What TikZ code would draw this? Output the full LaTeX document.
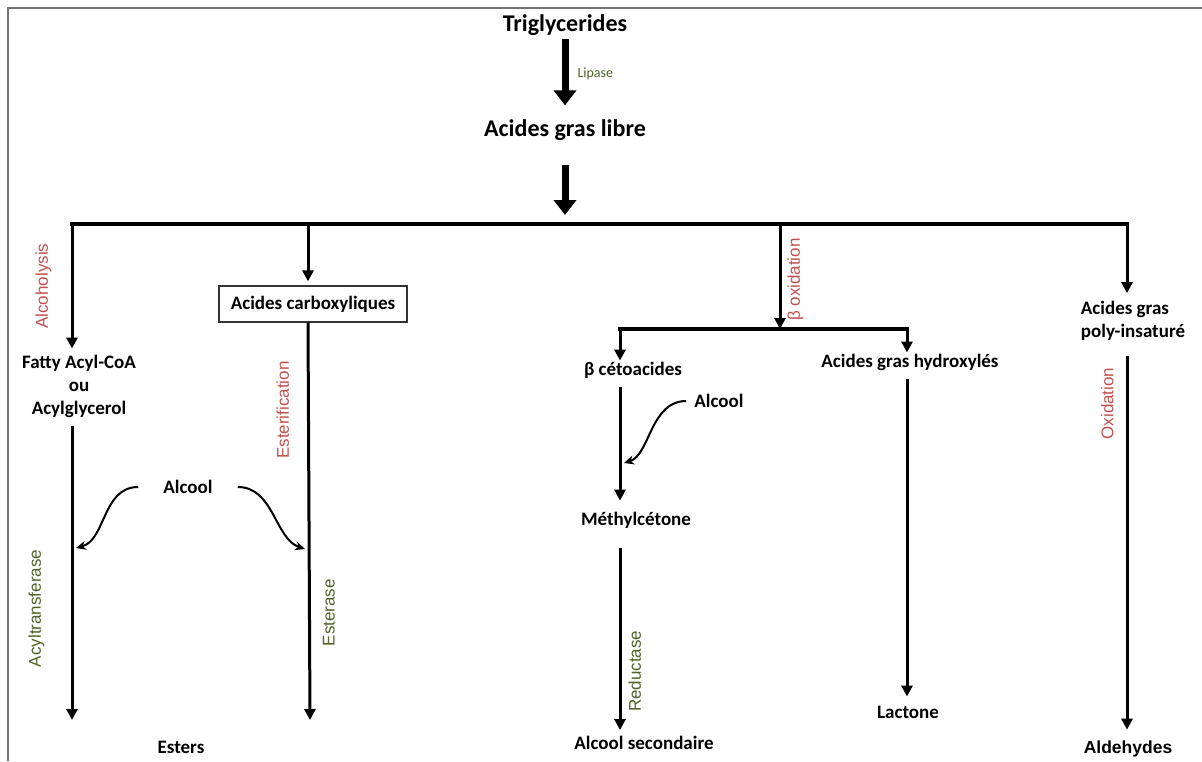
\documentclass[tikz,border=0pt]{standalone}
\usepackage{fontspec}
\setmainfont{Carlito}
\newfontfamily\arialfont{Liberation Sans}
\usetikzlibrary{arrows.meta}
\definecolor{enzred}{HTML}{C0504D}
\definecolor{enzgreen}{HTML}{4F6228}

\begin{document}
\begin{tikzpicture}[x=1pt, y=-1pt,
  txt/.style={font=\fontsize{19}{23}\selectfont\bfseries, inner sep=1pt, align=center},
  head/.style={font=\fontsize{24}{28}\selectfont\bfseries, inner sep=1pt},
  box/.style={txt, draw=black!80, line width=1.3pt, minimum width=188pt, minimum height=36pt},
  alc/.style={txt, inner xsep=#1},
  arr/.style={-{Triangle[length=11pt,width=11pt]}, line width=3pt},
  bigarr/.style={-{Triangle[length=15pt,width=22pt]}, line width=7pt},
  curv/.style={-{Stealth[length=10pt,width=9pt]}, line width=2pt},
  bar/.style={line width=3.2pt, line cap=rect},
  lbl/.style={font=\arialfont\fontsize{17}{20}\selectfont, text=#1, rotate=90},
  onleft/.style={anchor=south, inner sep=#1},
  onright/.style={anchor=north, inner sep=#1}]
\useasboundingbox (0,0) rectangle (1202,761);
\draw[black!55, line width=1.8pt] (1202,8) -- (8,8) -- (8,761);

% top of the pathway
\node[head] (trig) at (565,25) {Triglycerides};
\node[head] (libre) at (565,130) {Acides gras libre};
\draw[bigarr, shorten <=2pt, shorten >=13pt] (trig) -- node[pos=.45, anchor=west, inner sep=9pt,
  font=\fontsize{14}{16}\selectfont, text=enzgreen] {Lipase} (libre);

% the four branches
\coordinate (b1) at (72,224);
\coordinate (b2) at (308,224);
\coordinate (b3) at (780,224);
\coordinate (b4) at (1127,224);
\draw[bigarr, shorten <=23pt, shorten >=9pt] (libre) -- (libre |- b1);
\draw[bar] (b1) -- (b4);

\node[txt] (fatty) at (79,386) {Fatty Acyl-CoA\\ou\\Acylglycerol};
\node[box] (carb) at (313,304) {Acides carboxyliques};
\node[txt, align=left] (poly) at (1133,321) {Acides gras\\poly-insaturé};

\draw[arr, shorten >=5pt] (b1) -- node[pos=.48, lbl=enzred, onleft=19pt] {Alcoholysis} (b1 |- fatty.north);
\draw[arr, shorten >=4pt] (b2) -- (b2 |- carb.north);
\draw[arr, shorten >=7pt] (b4) -- (b4 |- poly.north);

% beta oxidation
\coordinate (s1) at (620,329);
\coordinate (s2) at (907,329);
\draw[arr] (b3) -- node[pos=.53, lbl=enzred, onright=6pt] {β oxidation} (b3 |- s1);
\draw[bar] (s1) -- (s2);
\node[txt] (ceto) at (633,370) {β cétoacides};
\node[txt] (hydro) at (910,362) {Acides gras hydroxylés};
\draw[arr] (s1) -- (s1 |- ceto.north);
\draw[arr] (s2) -- (s2 |- hydro.north);

% esters
\coordinate (e1) at (72,720);
\coordinate (e2) at (310,720);
\node[txt] (esters) at (181,747) {Esters};
\node[alc=25pt] (alc1) at (188,487) {Alcool};
\draw[arr, shorten <=8pt] (fatty.south -| e1) -- node[pos=.63, lbl=enzgreen, onleft=26pt] {Acyltransferase} (e1);
\draw[arr] (carb.south -| b2) -- node[pos=.22, lbl=enzred, onleft=18pt] {Esterification}
  node[pos=.73, lbl=enzgreen, onright=12pt] {Esterase} (e2);
\coordinate (t1) at (76,548);
\coordinate (t2) at (305,549);
\draw[curv] (alc1.west) .. controls +(-36,0) and +(30,-8) .. (t1);
\draw[curv] (alc1.east) .. controls +(36,0) and +(-30,-10) .. (t2);

% methylcetone route
\node[txt] (methyl) at (636,520) {Méthylcétone};
\node[txt] (alcsec) at (644,743) {Alcool secondaire};
\node[alc=8pt] (alc2) at (719,401) {Alcool};
\coordinate (t3) at (624,463);
\draw[arr, shorten <=8pt, shorten >=10pt] (ceto.south -| s1) -- (methyl.north -| s1);
\draw[curv] (alc2.west) .. controls +(-36,0) and +(26,-8) .. (t3);
\draw[arr, shorten <=19pt, shorten >=5pt] (methyl.south -| s1) -- node[pos=.69, lbl=enzgreen, onright=7pt] {Reductase} (alcsec.north -| s1);

% lactone and aldehydes
\node[txt] (lact) at (908,712) {Lactone};
\draw[arr, shorten <=8pt, shorten >=8pt] (hydro.south -| s2) -- (lact.north -| s2);
\node[font=\arialfont\bfseries\fontsize{17.5}{20}\selectfont, inner sep=1pt] (ald) at (1128,749) {Aldehydes};
\draw[arr, shorten <=14pt, shorten >=10pt] (poly.south -| b4) -- node[pos=.155, lbl=enzred, onleft=12pt] {Oxidation} (ald.north -| b4);
\end{tikzpicture}
\end{document}
